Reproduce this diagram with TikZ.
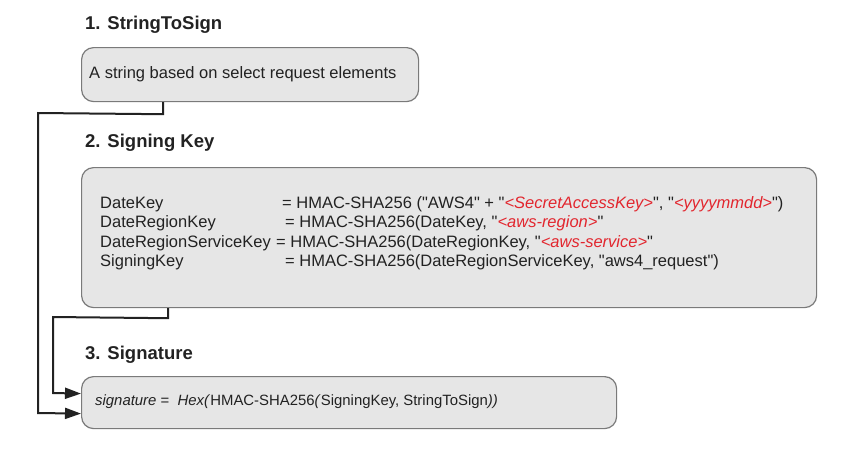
\documentclass[tikz,border=0pt]{standalone}
\usepackage{fontspec}
\setmainfont{Liberation Sans}
\newfontfamily\qf{Liberation Sans}[Ligatures=TeXOff]
\usetikzlibrary{arrows.meta,calc}
\definecolor{boxfill}{HTML}{E6E6E6}
\definecolor{boxline}{HTML}{7A7A7A}
\definecolor{keyred}{HTML}{E2262E}
\definecolor{ink}{HTML}{222222}
\tikzset{
  panel/.style={draw=boxline, line width=1.2pt, fill=boxfill, rounded corners=12pt, anchor=north west, inner sep=0pt},
  heading/.style={anchor=west, inner sep=0pt, font=\fontsize{18.5}{22}\selectfont\bfseries, text=ink},
  conn/.style={draw=ink, line width=2pt, -{Triangle[length=16pt,width=11pt]}},
}
\newcommand{\rd}[1]{\textcolor{keyred}{\itshape #1}}
\newcommand{\q}{{\qf\symbol{34}}}
\begin{document}
\begin{tikzpicture}[x=1pt,y=-1pt]
\useasboundingbox (0,0) rectangle (848,459);
% headings
\node[heading] (h1) at (85,25) {1. StringToSign};
\node[heading] (h2) at (85,143) {2. Signing Key};
\node[heading] (h3) at (85,355) {3. Signature};
% boxes
\node[panel, minimum width=337pt, minimum height=54pt] (b1) at (81,47) {};
\node[panel, minimum width=735pt, minimum height=140pt] (b2) at (81,167) {};
\node[panel, minimum width=535pt, minimum height=52pt] (b3) at (81,376) {};
% texts
\node[anchor=west, inner sep=0pt, font=\fontsize{16.5}{19}\selectfont, text=ink] (t1) at (89,74)
  {A string based on select request elements};
\node[anchor=west, inner sep=0pt, font=\fontsize{16.5}{19.5}\selectfont, text=ink, align=left] (t2) at (100,233)
  {\makebox[182pt][l]{DateKey}= HMAC-SHA256 (\q AWS4\q{} + \q\rd{<SecretAccessKey>}\q, \q\rd{<yyyymmdd>}\q)\\
   \makebox[185pt][l]{DateRegionKey}= HMAC-SHA256(DateKey, \q\rd{<aws-region>}\q\\
   \makebox[176pt][l]{DateRegionServiceKey}= HMAC-SHA256(DateRegionKey, \q\rd{<aws-service>}\q\\
   \makebox[185pt][l]{SigningKey}= HMAC-SHA256(DateRegionServiceKey, \q aws4\_request\q)};
\node[anchor=west, inner sep=0pt, font=\fontsize{14.9}{17}\selectfont, text=ink] (t3) at (95,402)
  {\textit{signature} =\ \ \textit{Hex(}HMAC-SHA256\textit{(}SigningKey, StringToSign\textit{))}};
% connectors
\draw[conn] ([xshift=82pt]b1.south west) -- ++(0,12) -- (38,113) -- (38,413) -- ([yshift=-11pt]b3.west);
\draw[conn] ([xshift=87pt]b2.south west) -- ++(0,10) -- (53,317) -- (53,393) -- ([yshift=9pt]b3.west);
\end{tikzpicture}
\end{document}
